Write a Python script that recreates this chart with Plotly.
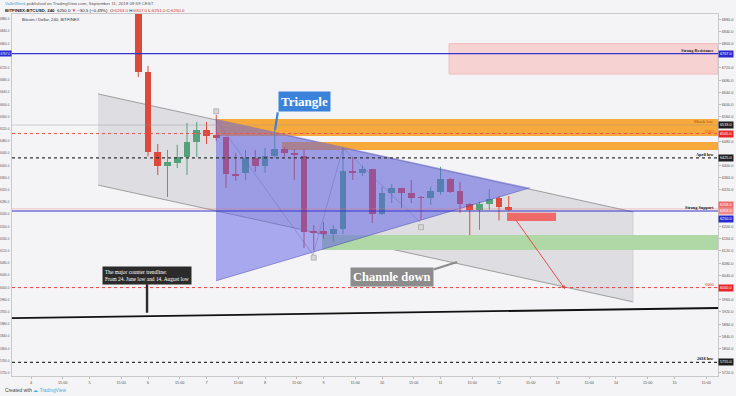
import plotly.graph_objects as go

# ---------------- data (BITFINEX:BTCUSD, 4h) ----------------
candle_hours = [44, 48, 52, 56, 60, 64, 68, 72, 76, 80, 84, 88, 92, 96, 100, 104, 108, 112, 116, 120,
                124, 128, 132, 136, 140, 144, 148, 152, 156, 160, 164, 168, 172, 176, 180, 184, 188, 192, 196]
candle_open = [7010, 6707, 6445, 6399, 6409, 6428, 6477, 6517, 6500, 6494, 6372, 6376, 6425, 6399, 6431, 6454,
               6441, 6431, 6186, 6186, 6176, 6192, 6382, 6376, 6389, 6241, 6310, 6327, 6310, 6296, 6294, 6313,
               6356, 6317, 6274, 6254, 6274, 6294, 6263]
candle_high = [7040, 6727, 6471, 6451, 6468, 6540, 6543, 6543, 6566, 6494, 6440, 6451, 6451, 6458, 6517, 6460,
               6454, 6454, 6205, 6215, 6205, 6458, 6428, 6400, 6389, 6330, 6340, 6327, 6353, 6300, 6331, 6396,
               6360, 6347, 6277, 6282, 6322, 6300, 6300]
candle_low = [6690, 6430, 6369, 6297, 6392, 6369, 6428, 6471, 6480, 6327, 6350, 6353, 6380, 6376, 6425, 6430,
              6353, 6130, 6123, 6160, 6150, 6176, 6353, 6366, 6212, 6238, 6277, 6260, 6277, 6222, 6271, 6305,
              6310, 6245, 6172, 6189, 6255, 6220, 6251]
candle_close = [6707, 6445, 6399, 6412, 6428, 6477, 6517, 6497, 6490, 6372, 6366, 6425, 6399, 6431, 6454, 6441,
                6435, 6182, 6179, 6176, 6192, 6382, 6376, 6389, 6241, 6310, 6327, 6310, 6294, 6294, 6317, 6356,
                6313, 6274, 6254, 6274, 6290, 6264, 6255]

x_tick_hours = [0, 13, 24, 37, 48, 61, 72, 85, 96, 109, 120, 133, 144, 157, 168, 181, 192, 205, 216, 229,
                240, 253, 264, 277]
x_tick_labels = ["4", "15:00", "5", "15:00", "6", "15:00", "7", "15:00", "8", "15:00", "9", "15:00",
                 "10", "15:00", "11", "15:00", "12", "15:00", "13", "15:00", "14", "15:00", "15", "15:00"]
y_tick_values = list(range(5720, 6881, 40))

# horizontal levels
strong_resistance = 6767
march_low = 6533
level_6505 = 6505
april_low = 6425
strong_support = 6251
last_price = 6258
level_6000 = 6000
low_2018 = 5755

# zones: (start hour, low, high)
resistance_zone = (171.5, 6700, 6800)
march_zone = (75.9, 6497, 6553)
april_zone = (103.0, 6451, 6477)
support_zone = (119.4, 6123, 6172)
target_zone = (195.3, 215.4, 6218, 6245)

# drawings (hour, price)
channel_top = [(27.5, 6635), (247.0, 6248)]
channel_bottom = [(27.5, 6336), (247.0, 5953)]
triangle = [(75.9, 6553), (204.7, 6327), (75.9, 6022)]
counter_trend = [(-7.8, 5900), (281.85, 5933)]
wave_h = [75.9, 115.7, 128.0, 159.6]
wave_p = [6550, 6107, 6458, 6215]
swing_h = [76, 116, 160]
swing_p = [6578, 6098, 6198]
target_arrow = [(198.6, 6225), (219.1, 5995)]

# price-scale badges (value, label, colour)
badges_right = [(6767, "6767.0", "#2a2ad0"), (6533, "6533.0", "#1e1e1e"), (6505, "6505.0", "#e8262a"),
                (6425, "6425.0", "#1e1e1e"), (6272, "6268.0", "#ec6a6a"), (6250, "6263.0", "#ee8a8a"),
                (6226, "6250.0", "#2a2ad0"), (6000, "6000.0", "#e8262a"), (5755, "5755.0", "#1e1e1e")]
badges_left = [(6767, "6767.0", "#2a2ad0")]

X_RANGE = [-7.8, 281.85]
Y_RANGE = [5710, 6897]

# ---------------- figure ----------------
W, H = 736, 396
ML, MR, MT, MB = 12, 18, 14, 20


def pxx(px):
    return (px - ML) / (W - ML - MR)


def pxy(py):
    return (H - MB - py) / (H - MT - MB)


def free_ticks(badges):
    # tick labels hidden where a badge covers them (as on the price scale)
    return [v for v in y_tick_values if all(abs(v - b[0]) > 17 for b in badges)]


right_ticks = free_ticks(badges_right)
left_ticks = free_ticks(badges_left)

UP = "#53a27b"
DOWN = "#dc4a3d"

fig = go.Figure()

colors = [UP if c >= o else DOWN for o, c in zip(candle_open, candle_close)]
bases = [min(o, c) for o, c in zip(candle_open, candle_close)]
heights = [max(abs(c - o), 2.5) for o, c in zip(candle_open, candle_close)]

fig.add_trace(go.Bar(x=candle_hours, y=heights, base=bases, width=2.7,
                     marker=dict(color=colors, line=dict(width=0)),
                     hoverinfo="skip", showlegend=False))

for col in (UP, DOWN):
    wx, wy = [], []
    for t, o, h, l, c in zip(candle_hours, candle_open, candle_high, candle_low, candle_close):
        if (UP if c >= o else DOWN) == col:
            wx += [t, t, None]
            wy += [l, h, None]
    fig.add_trace(go.Scatter(x=wx, y=wy, mode="lines", line=dict(color=col, width=1),
                             hoverinfo="skip", showlegend=False))

fig.add_trace(go.Scatter(x=wave_h, y=wave_p, mode="lines",
                         line=dict(color="rgba(110,110,150,0.6)", width=0.7),
                         hoverinfo="skip", showlegend=False))
fig.add_trace(go.Scatter(x=swing_h, y=swing_p, mode="markers",
                         marker=dict(symbol="square", size=5, color="#d6d6d6",
                                     line=dict(color="#9a9a9a", width=0.6)),
                         hoverinfo="skip", showlegend=False))
fig.add_trace(go.Scatter(x=[0], y=[6000], yaxis="y2", mode="markers",
                         marker=dict(opacity=0), hoverinfo="skip", showlegend=False))

shapes = []
(c0x, c0y), (c1x, c1y) = channel_top
(b0x, b0y), (b1x, b1y) = channel_bottom
shapes.append(dict(type="path", xref="x", yref="y", layer="below",
                   path=f"M{c0x},{c0y} L{c1x},{c1y} L{b1x},{b1y} L{b0x},{b0y} Z",
                   fillcolor="rgba(175,175,182,0.32)", line=dict(width=0)))
shapes.append(dict(type="line", xref="x", yref="y", layer="below", x0=c0x, y0=c0y, x1=c1x, y1=c1y,
                   line=dict(color="#8a8a8a", width=0.8)))
shapes.append(dict(type="line", xref="x", yref="y", layer="below", x0=b0x, y0=b0y, x1=b1x, y1=b1y,
                   line=dict(color="#8a8a8a", width=0.8)))
shapes.append(dict(type="line", xref="x", yref="y", layer="below", x0=c1x, y0=c1y, x1=b1x, y1=b1y,
                   line=dict(color="#c4c4c8", width=0.6)))

shapes.append(dict(type="rect", xref="x", yref="y", layer="below",
                   x0=resistance_zone[0], x1=X_RANGE[1], y0=resistance_zone[1], y1=resistance_zone[2],
                   fillcolor="#f6d2d3", line=dict(color="#eeb4b6", width=0.8)))
for z in (march_zone, april_zone):
    shapes.append(dict(type="rect", xref="x", yref="y", layer="below",
                       x0=z[0], x1=X_RANGE[1], y0=z[1], y1=z[2],
                       fillcolor="#f7a93c", line=dict(width=0)))
shapes.append(dict(type="rect", xref="x", yref="y", layer="below",
                   x0=support_zone[0], x1=X_RANGE[1], y0=support_zone[1], y1=support_zone[2],
                   fillcolor="#b0d7a6", line=dict(width=0)))
shapes.append(dict(type="rect", xref="x", yref="y", layer="below",
                   x0=target_zone[0], x1=target_zone[1], y0=target_zone[2], y1=target_zone[3],
                   fillcolor="#f06a6a", line=dict(width=0)))

(t0x, t0y), (t1x, t1y), (t2x, t2y) = triangle
shapes.append(dict(type="path", xref="x", yref="y", layer="above",
                   path=f"M{t0x},{t0y} L{t1x},{t1y} L{t2x},{t2y} Z",
                   fillcolor="rgba(92,92,232,0.5)", line=dict(width=0)))
shapes.append(dict(type="line", xref="x", yref="y", layer="above", x0=t1x, y0=t1y, x1=t2x, y1=t2y,
                   line=dict(color="rgba(70,70,170,0.7)", width=0.7)))


def hline(y, color, width=1, dash="solid"):
    shapes.append(dict(type="line", xref="paper", yref="y", layer="above", x0=0, x1=1, y0=y, y1=y,
                       line=dict(color=color, width=width, dash=dash)))


hline(strong_resistance, "#3434cc", 1.1)
hline(march_low, "rgba(150,150,150,0.6)", 0.7)
hline(level_6505, "#f05050", 1, "dot")
hline(april_low, "#333333", 1.2, "dot")
hline(last_price, "rgba(235,110,110,0.55)", 0.7)
hline(strong_support, "#3434cc", 1.1)
hline(level_6000, "#f04040", 1, "dot")
hline(low_2018, "#333333", 1.2, "dot")

(k0x, k0y), (k1x, k1y) = counter_trend
shapes.append(dict(type="line", xref="x", yref="y", layer="above", x0=k0x, y0=k0y, x1=k1x, y1=k1y,
                   line=dict(color="#111111", width=1.8)))

ann = []
SANS = "Liberation Sans"
SERIF = "Liberation Serif"

ann.append(dict(xref="paper", yref="paper", x=pxx(3), y=pxy(3.5), xanchor="left", yanchor="middle",
                showarrow=False, font=dict(size=4.4, color="#555", family=SANS),
                text="<span style='color:#3a9ad9'>ValleWeek</span> published on TradingView.com, September 11, 2018 09:59 CEST"))
ann.append(dict(xref="paper", yref="paper", x=pxx(3), y=pxy(10.5), xanchor="left", yanchor="middle",
                showarrow=False, font=dict(size=4.4, color="#222", family=SANS),
                text="<b>BITFINEX:BTCUSD, 240</b>  6250.0 <span style='color:#e03030'>▼</span> −30.5 (−0.49%)  "
                     "O:<span style='color:#e03030'>6263.0</span> H:<span style='color:#e03030'>6307.0</span> "
                     "L:<span style='color:#e03030'>6251.0</span> C:<span style='color:#e03030'>6250.0</span>"))
ann.append(dict(xref="paper", yref="paper", x=pxx(20), y=pxy(20), xanchor="left", yanchor="middle",
                showarrow=False, font=dict(size=4.2, color="#333", family=SANS),
                text="Bitcoin / Dollar, 240, BITFINEX"))
ann.append(dict(xref="paper", yref="paper", x=pxx(3), y=pxy(390), xanchor="left", yanchor="middle",
                showarrow=False, font=dict(size=4.8, color="#444", family=SANS),
                text="Created with <span style='color:#3bb0e0'>☁ TradingView</span>"))


def level_text(y, text, color, bold=True, size=4.3):
    ann.append(dict(xref="x", yref="y", x=X_RANGE[1] - 0.8, y=y, xanchor="right", yanchor="bottom",
                    showarrow=False, font=dict(size=size, color=color, family=SERIF),
                    text=f"<b>{text}</b>" if bold else text, yshift=-1))


level_text(strong_resistance, "Strong Resistance", "#222")
level_text(march_low, "March low", "#9a5a14", bold=False)
level_text(level_6505 - 6, "6505", "#e84a1a", bold=False)
level_text(april_low, "April low", "#111")
level_text(strong_support, "Strong Support", "#222")
level_text(level_6000, "6000", "#e03030", bold=False)
level_text(low_2018, "2018 low", "#111")

for y, t, c in badges_right:
    ann.append(dict(xref="paper", yref="y", x=1, y=y, xanchor="left", yanchor="middle", showarrow=False,
                    text=t, bgcolor=c, borderpad=1, font=dict(size=3.8, color="white", family=SANS)))
for y, t, c in badges_left:
    ann.append(dict(xref="paper", yref="y", x=0, y=y, xanchor="right", yanchor="middle", showarrow=False,
                    text=t, bgcolor=c, borderpad=0.5, font=dict(size=3.1, color="white", family=SANS)))

ann.append(dict(xref="x", yref="y", x=100.1, y=6517, ax=3, ay=-19, text="", showarrow=True,
                arrowhead=0, arrowwidth=2.2, arrowcolor="#3b82db", standoff=0))
ann.append(dict(xref="x", yref="y", x=112.0, y=6609, showarrow=False, text="<b>Triangle</b>",
                bgcolor="#3b82db", borderpad=2, font=dict(size=13, color="white", family=SERIF)))

ann.append(dict(xref="x", yref="y", x=174.8, y=6084, ax=-25, ay=8, text="", showarrow=True,
                arrowhead=0, arrowwidth=2.2, arrowcolor="#8c8c8c", standoff=0))
ann.append(dict(xref="x", yref="y", x=147.9, y=6033, showarrow=False, text="<b>Channle down</b>",
                bgcolor="#8c8c8c", borderpad=2, font=dict(size=12.5, color="white", family=SERIF)))

ann.append(dict(xref="x", yref="y", x=47.6, y=5917, ax=0, ay=-30, text="", showarrow=True,
                arrowhead=0, arrowwidth=2.4, arrowcolor="#2b2b2b", standoff=0))
ann.append(dict(xref="x", yref="y", x=47.6, y=6038, showarrow=False, align="left",
                text="The major counter trendline:<br>From 24. June low and 14. August low",
                bgcolor="#2b2b2b", borderpad=2, font=dict(size=5.4, color="white", family=SERIF)))

(a0x, a0y), (a1x, a1y) = target_arrow
ann.append(dict(xref="x", yref="y", axref="x", ayref="y", x=a1x, y=a1y, ax=a0x, ay=a0y, text="",
                showarrow=True, arrowhead=2, arrowsize=0.8, arrowwidth=0.9, arrowcolor="#e04040"))

axis_common = dict(showgrid=False, zeroline=False, showline=True, linecolor="#c9c9c9", linewidth=1,
                   tickcolor="#bdbdbd", automargin=False)

fig.update_layout(
    width=W, height=H,
    margin=dict(l=ML, r=MR, t=MT, b=MB, pad=0, autoexpand=False),
    paper_bgcolor="#f4f4f6", plot_bgcolor="#f4f4f6",
    showlegend=False, bargap=0,
    xaxis=dict(range=X_RANGE, tickvals=x_tick_hours, ticktext=x_tick_labels, mirror=True,
               ticks="outside", ticklen=2,
               tickfont=dict(size=3.8, color="#555", family=SANS), **axis_common),
    yaxis=dict(range=Y_RANGE, side="right", tickvals=right_ticks,
               ticktext=[f"{v:.1f}" for v in right_ticks],
               ticks="outside", ticklen=2,
               tickfont=dict(size=3.8, color="#555", family=SANS), **axis_common),
    yaxis2=dict(range=Y_RANGE, side="left", overlaying="y", tickvals=left_ticks,
                ticktext=[f"{v:.1f}" for v in left_ticks],
                ticks="", ticklen=0, ticklabelstandoff=1,
                tickfont=dict(size=3.1, color="#555", family=SANS), **axis_common),
    shapes=shapes,
    annotations=ann,
)

fig.write_html("out.html", config={"displayModeBar": False},
               post_script="document.body.style.margin='0';document.body.style.padding='0';"
                           "document.body.style.background='#f4f4f6';")
